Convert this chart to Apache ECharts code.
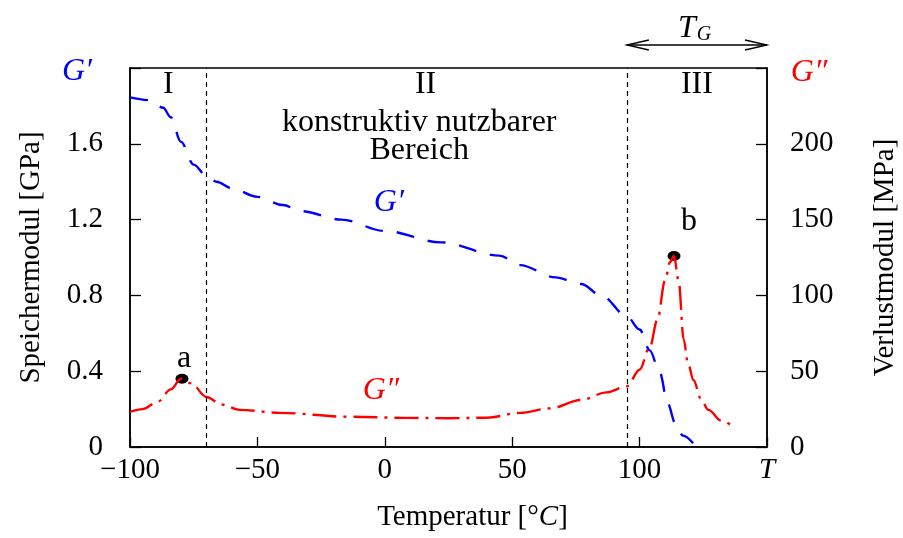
<!DOCTYPE html>
<html>
<head>
<meta charset="utf-8">
<script src="https://cdn.jsdelivr.net/npm/echarts@6/dist/echarts.min.js"></script>
<style>
  html, body { margin: 0; padding: 0; background: #fff; }
  #chart { width: 903px; height: 538px; }
</style>
</head>
<body>
<div id="chart"></div>
<script>
// Storage modulus G' (GPa) over temperature (°C)
const tempStorage = [-100, -92, -87, -84, -80, -75, -70, -66, -60, -50, -40, -33, -17, 0, 22, 45, 53, 67, 77, 85, 95, 100, 104, 108, 111, 114, 117, 121];
const storageModulus = [1.845, 1.83, 1.79, 1.74, 1.61, 1.49, 1.43, 1.40, 1.365, 1.32, 1.277, 1.245, 1.20, 1.14, 1.08, 1.01, 0.96, 0.895, 0.86, 0.80, 0.69, 0.62, 0.51, 0.39, 0.23, 0.127, 0.06, 0.02];

// Loss modulus G'' (MPa) over temperature (°C)
const tempLoss = [-100, -95, -89, -84, -80, -76, -70, -64, -57, -41, -15, 10, 25, 40, 53, 65, 77, 87, 95, 100, 104, 107, 110, 112, 113.5, 115.3, 117.3, 119, 121.2, 124, 127, 132, 137];
const lossModulus = [23.2, 25, 30, 38, 45, 42, 33, 28, 24.5, 22.5, 20, 19.2, 19, 19.3, 22.5, 25.5, 31, 36, 40, 51, 66, 84, 110, 122, 126, 110, 71, 55, 44, 32, 24.5, 17.5, 13];

// Marked loss peaks: [temperature, G'' value, label]
const lossPeaks = [[-79.6, 45, 'a'], [113.5, 126, 'b']];

// Region borders (°C) and region names
const regionBorders = [-70, 95];
const regionNames = ['I', 'II', 'III'];
const regionText = ['konstruktiv nutzbarer', 'Bereich'];

// Axis ranges and tick spacing
const xRange = [-100, 150], xStep = 50;
const leftRange = [0, 2.0], leftStep = 0.4;
const rightRange = [0, 250], rightStep = 50;

const SERIF = '"Liberation Serif", "DejaVu Serif", serif';
const FS = 29;
const FS_NOTE = 32;
const BLUE = '#0000ff';
const RED = '#ff0000';

const zip = (xs, ys) => xs.map((x, i) => [x, ys[i]]);
const minus = v => (v < 0 ? '\u2212' + Math.abs(v) : String(v));

const chart = echarts.init(document.getElementById('chart'), null, { renderer: 'canvas' });

const axisLineStyle = { show: true, onZero: false, lineStyle: { color: '#000', width: 1.5 } };

// Label placement for the two peak markers
const peakLabelOffsets = [[2, 6], [15, -8]];

chart.setOption({
  backgroundColor: '#fff',
  animation: false,
  grid: {
    left: 130, right: 136, top: 68, bottom: 91,
    containLabel: false, outerBoundsMode: 'none',
    show: true, borderColor: '#000', borderWidth: 1.5, backgroundColor: 'transparent'
  },
  xAxis: {
    type: 'value', min: xRange[0], max: xRange[1], interval: xStep,
    axisLine: axisLineStyle,
    axisTick: { inside: true, length: 10, lineStyle: { color: '#000', width: 1.3 } },
    splitLine: { show: false },
    axisLabel: {
      margin: 9, color: '#000', fontFamily: SERIF, fontSize: FS,
      showMaxLabel: true, showMinLabel: true,
      formatter: v => (v === xRange[1] ? '{i|T}' : minus(v)),
      rich: { i: { fontFamily: SERIF, fontSize: FS, fontStyle: 'italic', color: '#000' } }
    },
    name: 'Temperatur [°{i|C}]',
    nameLocation: 'middle', nameGap: 56,
    nameTextStyle: {
      color: '#000', fontFamily: SERIF, fontSize: FS, padding: [0, 0, 0, 48],
      rich: { i: { fontFamily: SERIF, fontSize: FS, fontStyle: 'italic', color: '#000' } }
    }
  },
  yAxis: [
    {
      type: 'value', min: leftRange[0], max: leftRange[1], interval: leftStep, position: 'left',
      axisLine: axisLineStyle,
      axisTick: { inside: true, length: 11, lineStyle: { color: '#000', width: 1.3 } },
      splitLine: { show: false },
      axisLabel: {
        margin: 27, color: '#000', fontFamily: SERIF, fontSize: FS,
        formatter: v => (v >= leftRange[1] - 1e-9 ? '' : (v === 0 ? '0' : v.toFixed(1)))
      },
      name: 'Speichermodul [GPa]', nameLocation: 'middle', nameGap: 84, nameRotate: 90,
      nameTextStyle: { color: '#000', fontFamily: SERIF, fontSize: FS }
    },
    {
      type: 'value', min: rightRange[0], max: rightRange[1], interval: rightStep, position: 'right',
      axisLine: axisLineStyle,
      axisTick: { inside: true, length: 11, lineStyle: { color: '#000', width: 1.3 } },
      splitLine: { show: false },
      axisLabel: {
        margin: 23, color: '#000', fontFamily: SERIF, fontSize: FS,
        formatter: v => (v >= rightRange[1] ? '' : String(v))
      },
      name: 'Verlustmodul [MPa]', nameLocation: 'middle', nameGap: 104, nameRotate: 90,
      nameTextStyle: { color: '#000', fontFamily: SERIF, fontSize: FS }
    }
  ],
  series: [
    {
      name: "G'", type: 'line', yAxisIndex: 0, data: zip(tempStorage, storageModulus),
      smooth: 0.35, smoothMonotone: 'x', showSymbol: false, symbol: 'none',
      lineStyle: { color: BLUE, width: 2.4, type: [18, 14] },
      z: 3,
      markLine: {
        silent: true, symbol: 'none', label: { show: false },
        lineStyle: { color: '#000', width: 1.2, type: [5, 4] },
        data: regionBorders.map(x => ({ xAxis: x }))
      }
    },
    {
      name: "G''", type: 'line', yAxisIndex: 1, data: zip(tempLoss, lossModulus),
      smooth: 0.35, smoothMonotone: 'x', showSymbol: false, symbol: 'none',
      lineStyle: { color: RED, width: 2.4, type: [24, 7, 3, 7] },
      z: 4
    },
    {
      name: 'peaks', type: 'scatter', yAxisIndex: 1,
      data: lossPeaks.map((p, i) => ({
        value: [p[0], p[1]],
        label: { formatter: p[2], offset: peakLabelOffsets[i] }
      })),
      symbol: 'circle', symbolSize: [13, 10],
      itemStyle: { color: '#000', opacity: 1 },
      label: { show: true, position: 'top', distance: 5, color: '#000', fontFamily: SERIF, fontSize: FS_NOTE },
      z: 2
    }
  ]
});

// Annotations positioned through the axes' own coordinate conversion
const px = (x, y, yAxisIndex) => chart.convertToPixel({ xAxisIndex: 0, yAxisIndex: yAxisIndex || 0 }, [x, y]);
const txt = (p, text, opts) => ({
  type: 'text', x: p[0], y: p[1], silent: true,
  style: Object.assign({
    text: text, fill: '#000', font: FS_NOTE + 'px ' + SERIF,
    align: 'center', verticalAlign: 'middle', textAlign: 'center', textVerticalAlign: 'middle'
  }, opts || {})
});

// Label anchors (°C) for the region names and the region description
const regionLabelX = [-85, 16, 122.5];
const regionTextX = 13.5;

const graphics = [];
regionNames.forEach((n, i) => graphics.push(txt(px(regionLabelX[i], 1.91), n)));
graphics.push(txt(px(regionTextX, 1.71), regionText[0]));
graphics.push(txt(px(regionTextX, 1.565), regionText[1]));

// Curve labels inside the plot
const italic = 'italic ' + FS_NOTE + 'px ' + SERIF;
graphics.push(txt(px(1.6, 1.29), 'G\u2032', { fill: BLUE, font: italic }));
graphics.push(txt(px(-1.5, 37, 1), 'G\u2033', { fill: RED, font: italic }));

// Axis headings above the value axes
const gl = px(xRange[0], leftRange[1]);
const gr = px(xRange[1], leftRange[1]);
graphics.push(txt([gl[0] - 53, gl[1] + 4], 'G\u2032', { fill: BLUE, font: italic }));
graphics.push(txt([gr[0] + 42, gr[1] + 5], 'G\u2033', { fill: RED, font: italic }));

// Glass transition range arrow T_G
const a0 = px(regionBorders[1], leftRange[1]);
const a1 = px(xRange[1], leftRange[1]);
const ay = a0[1] - 23, hl = 22, hw = 5;
const arrowStyle = { stroke: '#000', lineWidth: 1.3, fill: 'none' };
graphics.push({ type: 'line', silent: true, shape: { x1: a0[0], y1: ay, x2: a1[0], y2: ay }, style: arrowStyle });
graphics.push({ type: 'polyline', silent: true, shape: { points: [[a0[0] + hl, ay - hw], [a0[0], ay], [a0[0] + hl, ay + hw]] }, style: arrowStyle });
graphics.push({ type: 'polyline', silent: true, shape: { points: [[a1[0] - hl, ay - hw], [a1[0], ay], [a1[0] - hl, ay + hw]] }, style: arrowStyle });
const mid = (a0[0] + a1[0]) / 2;
graphics.push(txt([mid - 10, ay - 16], 'T', { font: italic }));
graphics.push(txt([mid + 7, ay - 10], 'G', { font: 'italic 20px ' + SERIF }));

chart.setOption({ graphic: graphics });
</script>
</body>
</html>
